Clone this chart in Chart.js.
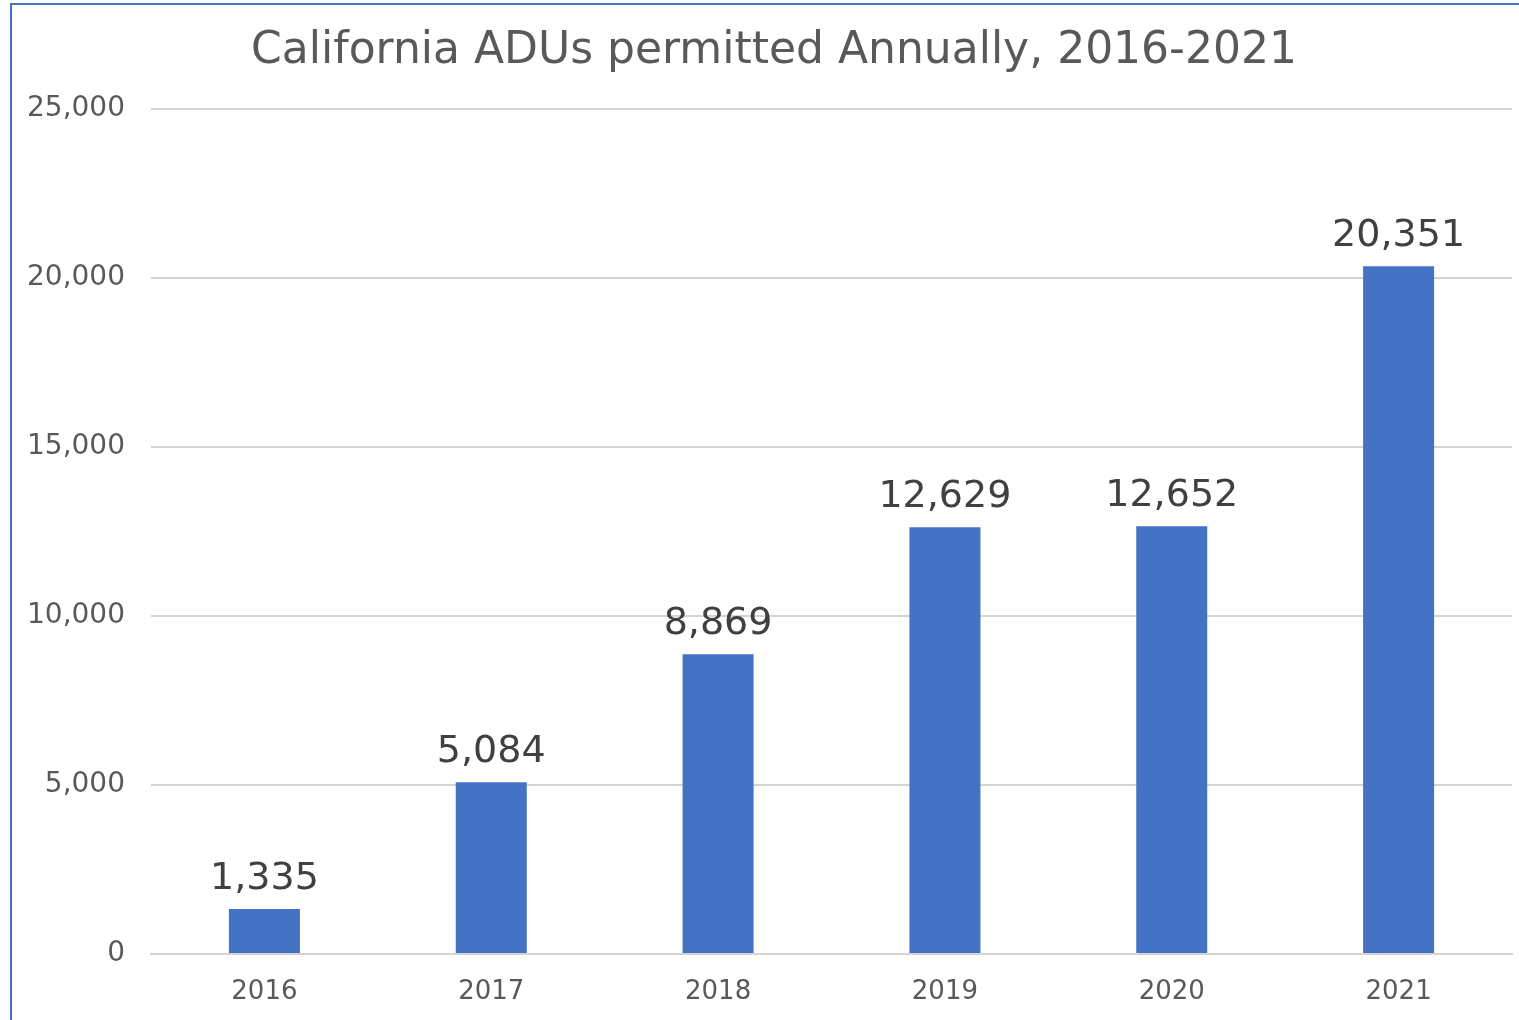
<!DOCTYPE html>
<html>
<head>
<meta charset="utf-8">
<script src="https://cdn.jsdelivr.net/npm/chart.js@4/dist/chart.umd.min.js"></script>
<style>
  body { margin: 0; background: #fff; }
  canvas { display: block; }
</style>
</head>
<body>
<canvas id="aduChart" width="1519" height="1020"></canvas>
<script>
const chartTitle = 'California ADUs permitted Annually, 2016-2021';
const years = ['2016', '2017', '2018', '2019', '2020', '2021'];
const permits = [1335, 5084, 8869, 12629, 12652, 20351];
const yTicks = [0, 5000, 10000, 15000, 20000, 25000];

const FONT = '"DejaVu Sans", "Noto Sans", sans-serif';

// frame + title drawn straight on the canvas
const framePlugin = {
  id: 'frame',
  beforeDraw(chart) {
    const ctx = chart.ctx;
    ctx.save();
    ctx.fillStyle = '#fff';
    ctx.fillRect(0, 0, chart.width, chart.height);
    ctx.strokeStyle = '#4472C4';
    ctx.lineWidth = 2;
    ctx.beginPath();
    ctx.moveTo(11, chart.height);
    ctx.lineTo(11, 4);
    ctx.lineTo(chart.width, 4);
    ctx.stroke();

    ctx.fillStyle = '#595959';
    ctx.font = '44px ' + FONT;
    ctx.textAlign = 'center';
    ctx.textBaseline = 'middle';
    ctx.fillText(chartTitle, 774, 52);
    ctx.restore();
  }
};

// value labels above bars
const valueLabels = {
  id: 'valueLabels',
  afterDatasetsDraw(chart) {
    const ctx = chart.ctx;
    const meta = chart.getDatasetMeta(0);
    ctx.save();
    ctx.fillStyle = '#404040';
    ctx.font = '38px ' + FONT;
    ctx.textAlign = 'center';
    ctx.textBaseline = 'alphabetic';
    meta.data.forEach((bar, i) => {
      ctx.fillText(permits[i].toLocaleString('en-US'), bar.x, bar.y - 20);
    });
    ctx.restore();
  }
};

new Chart(document.getElementById('aduChart'), {
  type: 'bar',
  data: {
    labels: years,
    datasets: [{
      label: 'ADUs permitted',
      data: permits,
      backgroundColor: '#4472C4',
      borderWidth: 0,
      categoryPercentage: 1,
      barPercentage: 0.313
    }]
  },
  options: {
    responsive: false,
    animation: false,
    layout: { padding: { left: 0, right: 7, top: 109, bottom: 0 } },
    plugins: {
      legend: { display: false },
      title: { display: false },
      tooltip: { enabled: false }
    },
    scales: {
      x: {
        grid: { display: false, drawTicks: false },
        border: { color: '#d4d4d4', width: 2 },
        ticks: { color: '#595959', font: { family: FONT, size: 26 }, padding: 23 },
        afterFit(scale) { scale.height = 66; }
      },
      y: {
        min: 0,
        max: 25000,
        afterBuildTicks(scale) { scale.ticks = yTicks.map(v => ({ value: v })); },
        grid: { color: '#d4d4d4', lineWidth: 2, drawTicks: false },
        border: { display: false },
        ticks: {
          color: '#595959',
          font: { family: FONT, size: 28 },
          padding: 26,
          callback: v => v.toLocaleString('en-US')
        },
        afterFit(scale) { scale.width = 151; }
      }
    }
  },
  plugins: [framePlugin, valueLabels]
});
</script>
</body>
</html>
